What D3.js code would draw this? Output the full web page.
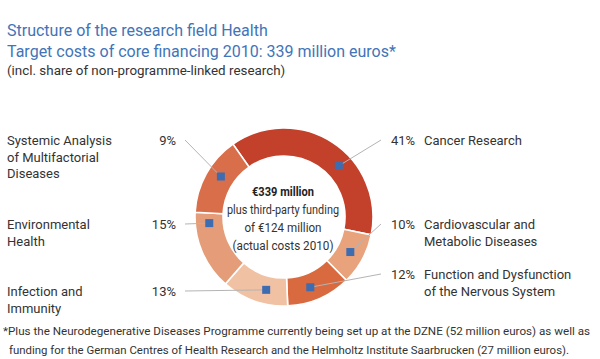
<!DOCTYPE html>
<html>
<head>
<meta charset="utf-8">
<script src="https://cdn.jsdelivr.net/npm/d3@7"></script>
<style>
  html, body { margin: 0; padding: 0; background: #fff; }
  svg { display: block; font-family: Roboto, "Liberation Sans", sans-serif; }
</style>
</head>
<body>
<svg id="chart" width="600" height="359"></svg>
<script>
// ---------- data ----------
const categories = [
  "Cancer Research",
  "Cardiovascular and Metabolic Diseases",
  "Function and Dysfunction of the Nervous System",
  "Infection and Immunity",
  "Environmental Health",
  "Systemic Analysis of Multifactorial Diseases"
];
const labelLines = [
  ["Cancer Research"],
  ["Cardiovascular and", "Metabolic Diseases"],
  ["Function and Dysfunction", "of the Nervous System"],
  ["Infection and", "Immunity"],
  ["Environmental", "Health"],
  ["Systemic Analysis", "of Multifactorial", "Diseases"]
];
const percentLabels = ["41%", "10%", "12%", "13%", "15%", "9%"];
// slice sizes as drawn in the picture (%)
const arcShares = [37.9, 9.4, 11.7, 12.1, 14.4, 14.4];

const titleLines = [
  "Structure of the research field Health",
  "Target costs of core financing 2010: 339 million euros*"
];
const subtitle = "(incl. share of non-programme-linked research)";
const centerLines = ["€339 million", "plus third-party funding", "of €124 million", "(actual costs 2010)"];
const footnoteLines = [
  "*Plus the Neurodegenerative Diseases Programme currently being set up at the DZNE (52 million euros) as well as",
  "funding for the German Centres of Health Research and the Helmholtz Institute Saarbrucken (27 million euros)."
];

// ---------- layout / style ----------
const colors = ["#c3402b", "#e8a27c", "#d9693f", "#f0c1a3", "#e49d78", "#d86e4a"];
const sides = ["right", "right", "right", "left", "left", "left"];
const labelBaseline = [145, 229, 279, 296, 229, 145];
const markerAt = [0.6, 0.48, 0.57, 0.37, 0.85, 0.57]; // fraction along each slice
const cx = 284, cy = 217, R = 89, r0 = 61;
const blue = "#3d6db0";
const textColor = "#333";

const svg = d3.select("#chart");

// titles
svg.append("g").selectAll("text").data(titleLines).join("text")
  .attr("x", 7).attr("y", (d, i) => 36 + i * 21)
  .attr("font-size", 16).attr("fill", "#4274b7")
  .text(d => d);
svg.append("text").attr("x", 7).attr("y", 75)
  .attr("font-size", 13.4).attr("fill", textColor).text(subtitle);

// donut
const pie = d3.pie().sort(null).value(d => d)
  .startAngle(-35 * Math.PI / 180).endAngle(325 * Math.PI / 180);
const arcs = pie(arcShares);
const arc = d3.arc().innerRadius(r0).outerRadius(R);
const g = svg.append("g").attr("transform", `translate(${cx},${cy})`);
g.selectAll("path").data(arcs).join("path")
  .attr("d", arc)
  .attr("fill", (d, i) => colors[i])
  .attr("stroke", "#fff").attr("stroke-width", 1.6);

// markers & leader lines
const rm = (R + r0) / 2;
arcs.forEach((a, i) => {
  const ang = a.startAngle + (a.endAngle - a.startAngle) * markerAt[i];
  const mx = cx + rm * Math.sin(ang), my = cy - rm * Math.cos(ang);
  const ly = labelBaseline[i] - 5;
  const lx = sides[i] === "right" ? 381 : 185;
  svg.append("line").attr("x1", lx).attr("y1", ly).attr("x2", mx).attr("y2", my)
    .attr("stroke", "#b4b4b4").attr("stroke-width", 1);
  svg.append("rect").attr("x", mx - 4).attr("y", my - 4).attr("width", 8).attr("height", 8)
    .attr("fill", blue);
});

// labels
categories.forEach((c, i) => {
  const right = sides[i] === "right";
  svg.append("text")
    .attr("x", right ? 391 : 176).attr("y", labelBaseline[i])
    .attr("text-anchor", right ? "start" : "end")
    .attr("font-size", 13).attr("fill", textColor)
    .text(percentLabels[i]);
  const t = svg.append("text").attr("font-size", 13).attr("fill", textColor);
  labelLines[i].forEach((ln, j) => {
    t.append("tspan").attr("x", right ? 424 : 7)
      .attr("y", labelBaseline[i] + j * 16.5).text(ln);
  });
});

// center text
const centerWidths = [62, 112, 77, 101];
centerLines.forEach((ln, i) => {
  svg.append("text").attr("x", 283).attr("y", 196 + i * 18)
    .attr("text-anchor", "middle")
    .attr("font-size", i === 0 ? 13.5 : 12.5)
    .attr("font-weight", i === 0 ? "bold" : "normal")
    .attr("fill", i === 0 ? "#222" : textColor)
    .attr("textLength", centerWidths[i]).attr("lengthAdjust", "spacingAndGlyphs")
    .text(ln);
});

// footnote
const footX = [3, 9], footW = [587, 560];
footnoteLines.forEach((ln, i) => {
  svg.append("text").attr("x", footX[i]).attr("y", 335 + i * 18.5)
    .attr("font-size", 11.2).attr("fill", textColor)
    .attr("textLength", footW[i]).attr("lengthAdjust", "spacingAndGlyphs")
    .text(ln);
});
</script>
</body>
</html>
